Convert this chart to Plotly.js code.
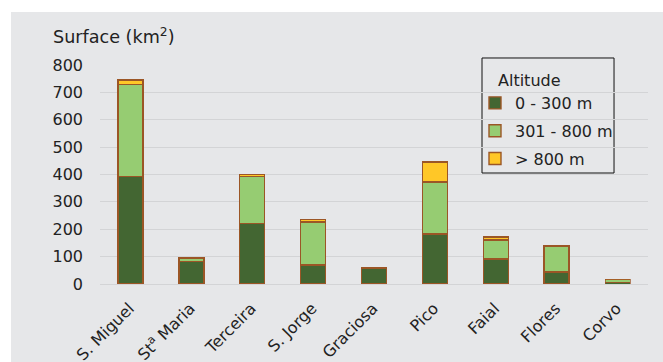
<!DOCTYPE html>
<html>
<head>
<meta charset="utf-8">
<script src="https://cdn.plot.ly/plotly-3.0.1.min.js"></script>
<style>
  html, body { margin: 0; padding: 0; background: #ffffff; width: 663px; height: 362px; overflow: hidden; }
  #chart { position: absolute; left: 11px; top: 12px; width: 652px; height: 350px; }
</style>
</head>
<body>
<div id="chart"></div>
<script>
const islands = ["S. Miguel", "St<sup>a</sup> Maria", "Terceira", "S. Jorge", "Graciosa", "Pico", "Faial", "Flores", "Corvo"];
const low = [393, 83, 222, 70, 59, 183, 91, 44, 7];       // 0 - 300 m
const mid = [335, 12, 170, 156, 2, 189, 70, 95, 8];       // 301 - 800 m
const high = [17, 2, 8, 10, 0, 73, 10, 2, 2];             // > 800 m
const seriesNames = ["0 - 300 m", "301 - 800 m", "> 800 m"];
const legendTitle = "Altitude";
const yTicks = [0, 100, 200, 300, 400, 500, 600, 700, 800];

const colors = ["#436632", "#96cc72", "#ffc727"];
const edge = "#9b5626";
const series = [low, mid, high];
const FONT = "DejaVu Sans, Liberation Sans, Arial, sans-serif";
// thinner outline on the very small Corvo bar so its inner colours stay visible
const edgeWidths = islands.map(n => (n === "Corvo" ? 0.7 : 1.4));

const traces = series.map((vals, i) => ({
  type: "bar",
  name: seriesNames[i],
  x: islands,
  y: vals,
  width: 0.41,
  legendgroup: "g" + i,
  marker: { color: colors[i], line: { color: edge, width: edgeWidths } },
  hoverinfo: "skip"
}));

const layout = {
  width: 652, height: 350,
  margin: { l: 89, r: 15, t: 53, b: 78 },
  paper_bgcolor: "#e6e7e9",
  plot_bgcolor: "#e6e7e9",
  barmode: "stack",
  font: { family: FONT, size: 16, color: "#222222" },
  title: {
    text: "Surface (km<sup>2</sup>)",
    x: 0.0644, xanchor: "left", xref: "container",
    y: 0.928, yanchor: "middle", yref: "container",
    font: { family: FONT, size: 17.6, color: "#222222" }
  },
  xaxis: {
    type: "category",
    range: [-0.5, 8.5],
    tickangle: -45,
    showgrid: false,
    showline: false,
    zeroline: false,
    ticks: "",
    ticklabelstandoff: 11,
    ticklabelshift: -1,
    tickfont: { size: 16 }
  },
  yaxis: {
    range: [0, 800],
    tickvals: yTicks,
    ticktext: yTicks.map(String),
    showgrid: true,
    gridcolor: "#d3d4d6",
    gridwidth: 1,
    zeroline: true,
    zerolinecolor: "#d3d4d6",
    zerolinewidth: 1,
    showline: false,
    ticks: "",
    ticklabelstandoff: 16,
    tickfont: { size: 16 }
  },
  legend: {
    x: 0.6843, xanchor: "left",
    y: 0.6986, yanchor: "middle",
    bgcolor: "rgba(0,0,0,0)",
    borderwidth: 0,
    traceorder: "grouped",
    tracegroupgap: 4,
    font: { size: 16 }
  },
  shapes: [{
    type: "rect", xref: "paper", yref: "paper",
    x0: 0.6971, x1: 0.938, y0: 0.5068, y1: 1.032,
    line: { color: "#111111", width: 1 },
    fillcolor: "rgba(0,0,0,0)",
    layer: "below"
  }],
  annotations: [{
    text: legendTitle, xref: "paper", yref: "paper",
    x: 0.7226, y: 0.9315, xanchor: "left", yanchor: "middle",
    showarrow: false, font: { size: 16, color: "#222222" }
  }],
  showlegend: true
};

Plotly.newPlot("chart", traces, layout, { displayModeBar: false, staticPlot: true });
</script>
</body>
</html>
